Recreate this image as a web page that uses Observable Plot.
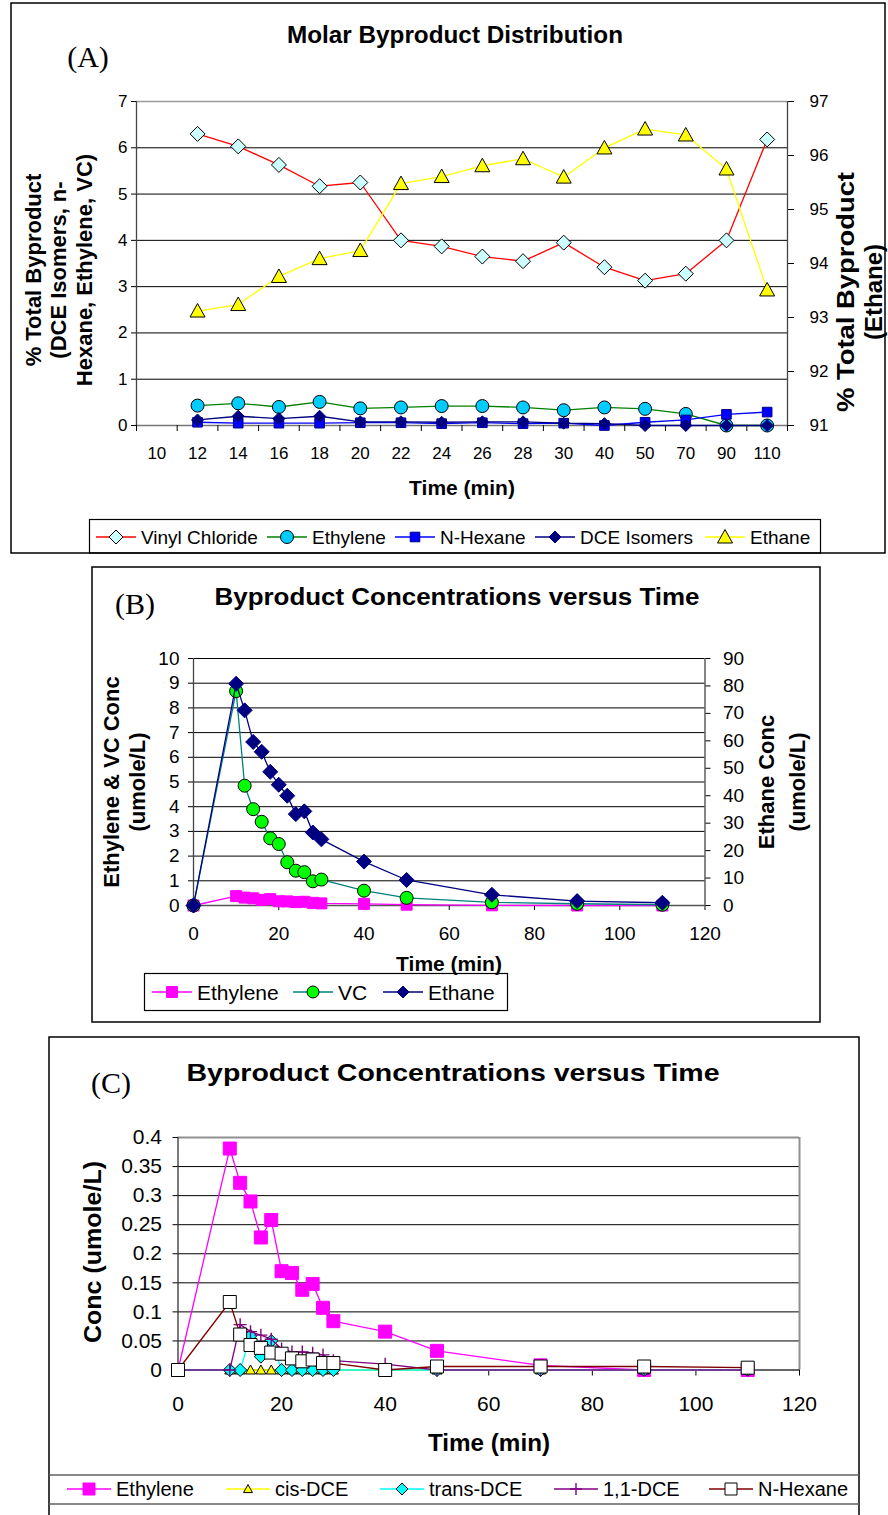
<!DOCTYPE html>
<html><head><meta charset="utf-8">
<script src="https://cdn.jsdelivr.net/npm/d3@7"></script>
<script src="https://cdn.jsdelivr.net/npm/@observablehq/plot@0.6"></script>
<style>
body{margin:0;background:#fff;}
#page{position:relative;width:888px;height:1515px;overflow:hidden;background:#fff;}
#page svg{position:absolute;left:0;}
</style></head><body><div id="page"></div>
<script>
// ================= DATA =================
// Panel A: Molar Byproduct Distribution (% of total byproduct)
const timesA = ["10","12","14","16","18","20","22","24","26","28","30","40","50","70","90","110"];
const seriesNamesA = ["Vinyl Chloride","Ethylene","N-Hexane","DCE Isomers","Ethane"];
const vinylChlorideA = [null,6.30,6.03,5.63,5.17,5.25,4.00,3.87,3.65,3.55,3.95,3.42,3.13,3.28,4.00,6.18];
const ethyleneA = [null,0.43,0.48,0.40,0.51,0.37,0.39,0.42,0.42,0.39,0.33,0.39,0.36,0.25,0.00,0.00];
const nHexaneA = [null,0.07,0.05,0.05,0.05,0.06,0.06,0.04,0.06,0.04,0.05,0.00,0.07,0.12,0.24,0.29];
const dceIsomersA = [null,0.12,0.20,0.15,0.20,0.08,0.08,0.07,0.08,0.08,0.05,0.04,0.00,0.00,0.00,0.00];
const ethaneA = [null,93.12,93.24,93.76,94.09,94.24,95.48,95.61,95.81,95.94,95.60,96.14,96.49,96.38,95.75,93.51];
const leftTicksA = [0,1,2,3,4,5,6,7];
const rightTicksA = [91,92,93,94,95,96,97];

// Panel B: Byproduct concentrations (umole/L)
const timesB = [0,10,12,14,16,18,20,22,24,26,28,30,40,50,70,90,110];
const seriesNamesB = ["Ethylene","VC","Ethane"];
const ethyleneB = [0,0.38,0.32,0.29,0.228,0.257,0.17,0.167,0.138,0.15,0.107,0.085,0.065,0.033,0.008,0,0];
const vcB = [0,8.68,4.85,3.90,3.39,2.72,2.49,1.75,1.41,1.35,0.98,1.05,0.60,0.31,0.13,0.07,0.03];
const ethaneB = [0,80.8,71.1,59.6,56.0,48.7,44.0,40.0,33.3,34.3,26.6,24.1,16.0,9.3,3.9,1.6,1.0];
const leftTicksB = [0,1,2,3,4,5,6,7,8,9,10];
const rightTicksB = [0,10,20,30,40,50,60,70,80,90];
const xTicksB = [0,20,40,60,80,100,120];

// Panel C: Byproduct concentrations (umole/L)
const timesC = [0,10,12,14,16,18,20,22,24,26,28,30,40,50,70,90,110];
const seriesNamesC = ["Ethylene","cis-DCE","trans-DCE","1,1-DCE","N-Hexane"];
const ethyleneC = [0,0.381,0.322,0.29,0.228,0.258,0.17,0.167,0.138,0.148,0.107,0.084,0.066,0.033,0.008,0,0];
const cisDceC = [0,0,0,0,0,0,0,0,0,0,0,0,0,0,0,0,0];
const transDceC = [0,0,0,0.059,0.023,0.05,0,0,0,0,0,0,0,0,0,0,0];
const dce11C = [0,0,0.078,0.066,0.06,0.053,0.036,0.031,0.031,0.029,0.026,0.016,0.01,0,0,0,0];
const nHexaneC = [0,0.117,0.061,0.043,0.038,0.03,0.028,0.02,0.015,0.018,0.012,0.012,0,0.006,0.006,0.006,0.004];
const yTicksC = [0,0.05,0.1,0.15,0.2,0.25,0.3,0.35,0.4];
const xTicksC = [0,20,40,60,80,100,120];

// ================= HELPERS =================
const SANS = "'Liberation Sans', Arial, Helvetica, sans-serif";
const SERIF = "'Liberation Serif', 'Times New Roman', serif";
const rad = s => Math.sqrt(s / Math.PI);
const SYM = {
  diamond: {draw(c, s){const r=rad(s); c.moveTo(0,-r); c.lineTo(r,0); c.lineTo(0,r); c.lineTo(-r,0); c.closePath();}},
  square: {draw(c, s){const r=rad(s); c.rect(-r,-r,2*r,2*r);}},
  triangle: {draw(c, s){const r=rad(s); c.moveTo(0,-r); c.lineTo(r,r*0.8); c.lineTo(-r,r*0.8); c.closePath();}},
  circle: {draw(c, s){const r=rad(s); c.moveTo(r,0); c.arc(0,0,r,0,2*Math.PI); c.closePath();}},
  plus: {draw(c, s){const r=rad(s); c.moveTo(-r,0); c.lineTo(r,0); c.moveTo(0,-r); c.lineTo(0,r);}}
};
const rows = (xs, ys) => xs.map((x,i) => ({x, i, v: ys[i]})).filter(d => d.v != null);

function seriesMarks(data, st, yf) {
  return [
    Plot.line(data, {x: st.xf, y: yf, stroke: st.line, strokeWidth: 1.3}),
    Plot.dot(data, {x: st.xf, y: yf, symbol: SYM[st.symbol], r: st.r, fill: st.fill, stroke: st.mstroke, strokeWidth: st.symbol === "plus" ? 1.4 : 1})
  ];
}
const page = document.getElementById("page");
function place(svg, top) { svg.style.top = top + "px"; svg.style.background = "transparent"; page.appendChild(svg); }

// ================= PANEL A =================
const toLeftA = v => (v - 91) * 7 / 6;
const fromLeftA = v => 91 + v * 6 / 7;
const idx = d => d.i;
const stylesA = [
  {line:"#ff0000", symbol:"diamond", r:7.5, fill:"#ccffff", mstroke:"#000"},
  {line:"#008000", symbol:"circle", r:6.5, fill:"#00ccff", mstroke:"#000"},
  {line:"#0000ff", symbol:"square", r:4.8, fill:"#0000ff", mstroke:"#000080"},
  {line:"#000080", symbol:"diamond", r:6, fill:"#000080", mstroke:"#000080"},
  {line:"#ffff00", symbol:"triangle", r:7.5, fill:"#ffff00", mstroke:"#000"}
].map(s => ({...s, xf: idx}));
const valsA = [vinylChlorideA, ethyleneA, nHexaneA, dceIsomersA, ethaneA];
const xDomA = [-0.5, timesA.length - 0.5];
const plotA = Plot.plot({
  width: 888, height: 520,
  marginLeft: 136, marginRight: 101, marginTop: 101, marginBottom: 95,
  x: {type: "linear", domain: xDomA, axis: null},
  y: {domain: [leftTicksA[0], leftTicksA[leftTicksA.length-1]], axis: null},
  style: {fontFamily: SANS, fontSize: "17px", color: "#000", background: "transparent"},
  marks: [
    Plot.ruleY(leftTicksA.slice(1, -1), {stroke: "#000", strokeWidth: 1}),
    Plot.ruleY([leftTicksA[leftTicksA.length-1]], {stroke: "#9a9a9a", strokeWidth: 1.5}),
    Plot.ruleY([leftTicksA[0]], {stroke: "#777", strokeWidth: 1.5}),
    Plot.ruleX([xDomA[0]], {stroke: "#444", strokeWidth: 1.3}),
    Plot.ruleX([xDomA[1]], {stroke: "#444", strokeWidth: 1.3}),
    Plot.axisY(leftTicksA, {tickSize: 5, tickPadding: 4, fontSize: 17, label: null}),
    Plot.axisY(rightTicksA.map(toLeftA), {anchor: "right", tickSize: 6, tickPadding: 16, fontSize: 17, label: null, tickFormat: v => String(Math.round(fromLeftA(v)))}),
    Plot.axisX(d3.range(timesA.length), {tickSize: 0, tickPadding: 21, fontSize: 17, label: null, tickFormat: i => timesA[i]}),
    Plot.axisX(d3.range(timesA.length + 1).map(i => i - 0.5), {tickSize: 6, label: null, tickFormat: () => ""}),
    ...valsA.flatMap((vals, k) => seriesMarks(rows(timesA, vals), stylesA[k], k === 4 ? (d => toLeftA(d.v)) : (d => d.v)))
  ]
});
place(plotA, 0);

// ================= PANEL B =================
const toLeftB = v => v / 9;
const xv = d => d.x;
const stylesB = [
  {line:"#ff00ff", symbol:"square", r:5.5, fill:"#ff00ff", mstroke:"#ff00ff"},
  {line:"#008080", symbol:"circle", r:6.5, fill:"#00ff00", mstroke:"#000"},
  {line:"#000080", symbol:"diamond", r:7.5, fill:"#000080", mstroke:"#000080"}
].map(s => ({...s, xf: xv}));
const valsB = [ethyleneB, vcB, ethaneB];
const plotB = Plot.plot({
  width: 888, height: 420,
  marginLeft: 193, marginRight: 183.5, marginTop: 98, marginBottom: 75,
  x: {domain: [xTicksB[0], xTicksB[xTicksB.length-1]], axis: null},
  y: {domain: [leftTicksB[0], leftTicksB[leftTicksB.length-1]], axis: null},
  style: {fontFamily: SANS, fontSize: "19px", color: "#000", background: "transparent"},
  marks: [
    Plot.ruleY(leftTicksB.slice(1), {stroke: "#000", strokeWidth: 1}),
    Plot.ruleY([0], {stroke: "#555", strokeWidth: 1.5}),
    Plot.ruleX([xTicksB[0]], {stroke: "#444", strokeWidth: 1.3}),
    Plot.ruleX([xTicksB[xTicksB.length-1]], {stroke: "#444", strokeWidth: 1.3}),
    Plot.axisY(leftTicksB, {tickSize: 5, tickPadding: 9, fontSize: 19, label: null}),
    Plot.axisY(rightTicksB.map(toLeftB), {anchor: "right", tickSize: 5, tickPadding: 13, fontSize: 19, label: null, tickFormat: v => String(Math.round(v * 9))}),
    Plot.axisX(xTicksB, {tickSize: 5, tickPadding: 16, fontSize: 19, label: null}),
    ...valsB.flatMap((vals, k) => seriesMarks(rows(timesB, vals), stylesB[k], k === 2 ? (d => toLeftB(d.v)) : (d => d.v)))
  ]
});
place(plotB, 560);

// ================= PANEL C =================
const stylesC = [
  {line:"#ff00ff", symbol:"square", r:6.5, fill:"#ff00ff", mstroke:"#ff00ff"},
  {line:"#ffff00", symbol:"triangle", r:5, fill:"#ffff00", mstroke:"#000"},
  {line:"#00ffff", symbol:"diamond", r:6.5, fill:"#00ffff", mstroke:"#000"},
  {line:"#800080", symbol:"plus", r:6.5, fill:"none", mstroke:"#800080"},
  {line:"#800000", symbol:"square", r:6.5, fill:"#ffffff", mstroke:"#000"}
].map(s => ({...s, xf: xv}));
const valsC = [ethyleneC, cisDceC, transDceC, dce11C, nHexaneC];
const yTopC = yTicksC[yTicksC.length-1];
const plotC = Plot.plot({
  width: 888, height: 400,
  marginLeft: 177.5, marginRight: 89, marginTop: 97, marginBottom: 70.5,
  x: {domain: [xTicksC[0], xTicksC[xTicksC.length-1]], axis: null},
  y: {domain: [yTicksC[0], yTopC], axis: null},
  style: {fontFamily: SANS, fontSize: "21px", color: "#000", background: "transparent"},
  marks: [
    Plot.ruleY(yTicksC.slice(1, -1), {stroke: "#000", strokeWidth: 1}),
    Plot.ruleY([yTopC], {stroke: "#909090", strokeWidth: 2}),
    Plot.ruleX([xTicksC[xTicksC.length-1]], {stroke: "#909090", strokeWidth: 2}),
    Plot.ruleX([xTicksC[0]], {stroke: "#333", strokeWidth: 1.3}),
    Plot.ruleY([0], {stroke: "#333", strokeWidth: 1.3}),
    Plot.axisY(yTicksC, {tickSize: 5, tickPadding: 11, fontSize: 21, label: null, tickFormat: v => String(v)}),
    Plot.axisX(xTicksC, {tickSize: 6, tickPadding: 20, fontSize: 21, label: null}),
    ...valsC.flatMap((vals, k) => seriesMarks(rows(timesC, vals), stylesC[k], d => d.v))
  ]
});
place(plotC, 1040);

// ================= OVERLAY (frames, titles, legends) =================
const ov = d3.select(page).append("svg").attr("width", 888).attr("height", 1515)
  .style("top", "0px").style("pointer-events", "none");

function txt(str, x, y, o) {
  const t = ov.append("text").attr("x", x).attr("y", y).text(str)
    .attr("font-family", o.family || SANS).attr("font-size", o.size)
    .attr("font-weight", o.weight || "normal").attr("text-anchor", o.anchor || "middle")
    .attr("dominant-baseline", "central").attr("fill", "#000");
  if (o.rotate) t.attr("transform", `rotate(${o.rotate},${x},${y})`);
  if (o.length) t.attr("textLength", o.length).attr("lengthAdjust", "spacingAndGlyphs");
  return t;
}
function box(x, y, w, h, sw, color) {
  ov.append("rect").attr("x", x).attr("y", y).attr("width", w).attr("height", h)
    .attr("fill", "none").attr("stroke", color || "#000").attr("stroke-width", sw);
}
function legend(names, styles, xs, lineLen, y, size) {
  names.forEach((name, k) => {
    const s = styles[k], x0 = xs[k];
    ov.append("line").attr("x1", x0).attr("x2", x0 + lineLen).attr("y1", y).attr("y2", y)
      .attr("stroke", s.line).attr("stroke-width", 1.4);
    const p = d3.path(); SYM[s.symbol].draw(p, s.r * s.r * Math.PI);
    ov.append("path").attr("d", p.toString()).attr("transform", `translate(${x0 + lineLen/2},${y})`)
      .attr("fill", s.fill).attr("stroke", s.mstroke).attr("stroke-width", s.symbol === "plus" ? 1.4 : 1);
    txt(name, x0 + lineLen + 5, y, {size, anchor: "start"});
  });
}

// Panel A
box(11, 3, 874, 550, 1.5);
box(89.5, 519.5, 731, 33.5, 1.2);
txt("(A)", 88, 56, {size: 30, family: SERIF});
txt("Molar Byproduct Distribution", 455, 35, {size: 23, weight: "bold", length: 336});
["% Total Byproduct", "(DCE Isomers, n-", "Hexane, Ethylene, VC)"].forEach((s, k) =>
  txt(s, [33, 58, 84][k], 270, {size: 22, weight: "bold", rotate: -90}));
txt("% Total Byproduct", 845, 292, {size: 24, weight: "bold", rotate: -90, length: 240});
txt("(Ethane)", 873, 292, {size: 24, weight: "bold", rotate: -90});
txt("Time (min)", 462, 487, {size: 21, weight: "bold"});
legend(seriesNamesA, stylesA.map((s, k) => k === 0 ? {...s, r: 7} : s), [96, 267, 395, 535, 705], 40, 537, 19);

// Panel B
box(92, 567, 728, 455, 1.5);
box(144.5, 973.5, 363, 37, 1.2);
txt("(B)", 135, 603, {size: 30, family: SERIF});
txt("Byproduct Concentrations versus Time", 457, 597, {size: 23, weight: "bold", length: 485});
txt("Ethylene & VC Conc", 111, 782, {size: 22, weight: "bold", rotate: -90});
txt("(umole/L)", 137, 782, {size: 22, weight: "bold", rotate: -90});
txt("Ethane Conc", 766, 782, {size: 22, weight: "bold", rotate: -90});
txt("(umole/L)", 797, 782, {size: 22, weight: "bold", rotate: -90});
txt("Time (min)", 449, 963, {size: 21, weight: "bold"});
legend(seriesNamesB, stylesB.map(s => ({...s, r: Math.min(s.r, 6)})), [152, 293, 383], 40, 992, 21);

// Panel C
box(49, 1037, 810, 520, 1.5);
ov.append("line").attr("x1", 49).attr("x2", 859).attr("y1", 1475).attr("y2", 1475).attr("stroke", "#606060").attr("stroke-width", 1.5);
ov.append("line").attr("x1", 49).attr("x2", 859).attr("y1", 1504).attr("y2", 1504).attr("stroke", "#606060").attr("stroke-width", 1.5);
txt("(C)", 111, 1082, {size: 30, family: SERIF});
txt("Byproduct Concentrations versus Time", 453, 1072, {size: 24, weight: "bold", length: 533});
txt("Conc (umole/L)", 92, 1252, {size: 24, weight: "bold", rotate: -90, length: 182});
txt("Time (min)", 489, 1443, {size: 23, weight: "bold", length: 122});
legend(seriesNamesC, stylesC.map(s => ({...s, r: s.symbol === "triangle" ? 4.5 : Math.min(s.r, 6)})), [67, 226, 380, 554, 709], 44, 1489, 20);
</script>
</body></html>
